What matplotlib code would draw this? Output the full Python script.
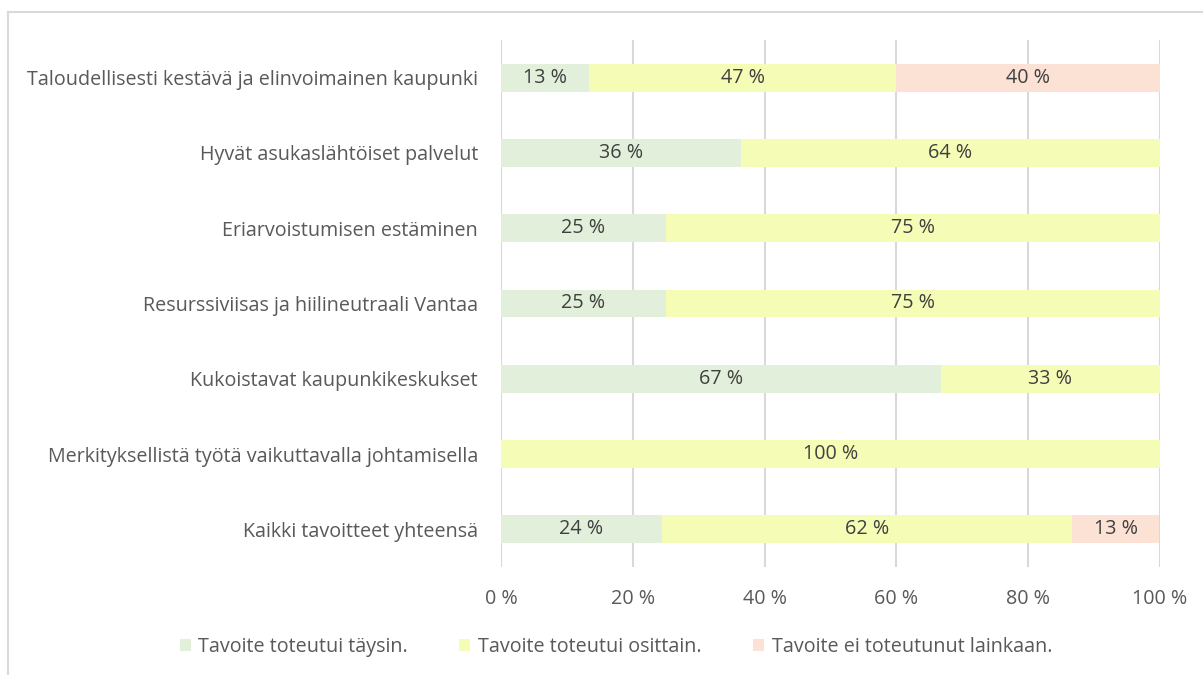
import matplotlib.pyplot as plt
from matplotlib.lines import Line2D

plt.rcParams['font.family'] = ['Open Sans', 'DejaVu Sans']

# Data (shares in percent)
categories = [
    "Taloudellisesti kestävä ja elinvoimainen kaupunki",
    "Hyvät asukaslähtöiset palvelut",
    "Eriarvoistumisen estäminen",
    "Resurssiviisas ja hiilineutraali Vantaa",
    "Kukoistavat kaupunkikeskukset",
    "Merkityksellistä työtä vaikuttavalla johtamisella",
    "Kaikki tavoitteet yhteensä",
]
taysin = [13.3, 36.4, 25.0, 25.0, 66.7, 0.0, 24.4]
osittain = [46.7, 63.6, 75.0, 75.0, 33.3, 100.0, 62.2]
ei_lainkaan = [40.0, 0.0, 0.0, 0.0, 0.0, 0.0, 13.3]
series_names = ["Tavoite toteutui täysin.", "Tavoite toteutui osittain.",
                "Tavoite ei toteutunut lainkaan."]
colors = ["#E2EFDA", "#F5FCB6", "#FBE2D5"]
xticks = [0, 20, 40, 60, 80, 100]
xtick_labels = ["0 %", "20 %", "40 %", "60 %", "80 %", "100 %"]

txt = "#595959"
fs = 14.2

fig = plt.figure(figsize=(12.03, 6.75), dpi=100)
# light frame of the chart area
fig.add_artist(Line2D([8 / 1203, 1], [1 - 12 / 675, 1 - 12 / 675], color="#D9D9D9", lw=1.5))
fig.add_artist(Line2D([8 / 1203, 8 / 1203], [0, 1 - 12 / 675], color="#D9D9D9", lw=1.5))

ax = fig.add_axes([501 / 1203, 1 - 567 / 675, 659 / 1203, 527 / 675])

y = list(range(len(categories)))
left = [0.0] * len(categories)
for vals, col, name in zip([taysin, osittain, ei_lainkaan], colors, series_names):
    bars = ax.barh(y, vals, left=left, height=0.37, color=col, label=name, zorder=2)
    for b, v, l in zip(bars, vals, left):
        if v > 0:
            ax.text(l + v / 2, b.get_y() + b.get_height() / 2, f"{round(v)} %",
                    ha="center", va="center", fontsize=fs, color="#404040", zorder=3)
    left = [a + b for a, b in zip(left, vals)]

ax.set_xlim(0, 100)
ax.set_ylim(len(categories) - 0.5, -0.5)
ax.set_yticks(y)
ax.set_yticklabels(categories, fontsize=fs, color=txt)
ax.set_xticks(xticks)
ax.set_xticklabels(xtick_labels, fontsize=fs, color=txt)
ax.tick_params(axis="both", length=0)
ax.tick_params(axis="y", pad=16.5)
ax.tick_params(axis="x", pad=15.5)
ax.grid(axis="x", color="#D9D9D9", lw=1.5, zorder=0)
for s in ax.spines.values():
    s.set_visible(False)

fig.legend(loc="center", bbox_to_anchor=(616 / 1203, 1 - 647 / 675), ncol=3,
           frameon=False, fontsize=fs, labelcolor=txt, handlelength=0.55,
           handleheight=0.55, handletextpad=0.4, columnspacing=2.6)

fig.savefig("out.png", dpi=100)
